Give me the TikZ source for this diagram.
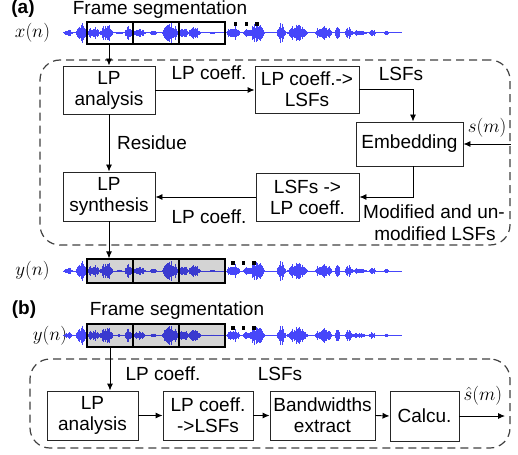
\documentclass[tikz,border=0pt]{standalone}
\usepackage{fix-cm}
\usepackage{fontspec}
\setmainfont{Liberation Sans}
\usetikzlibrary{arrows.meta}

\definecolor{wave}{RGB}{70,70,250}

\tikzset{
  txt/.style={font=\fontsize{19}{21}\selectfont, inner sep=0pt},
  blk/.style={draw=black!85, line width=0.9pt, fill=white, align=center,
              font=\fontsize{19}{21}\selectfont, inner sep=0pt},
  arr/.style={draw=black, line width=0.9pt, -{Latex[length=7pt,width=6pt]}},
  dashbox/.style={draw=black!75, line width=1.2pt, dash pattern=on 8pt off 5pt,
                  rounded corners=20pt, inner sep=0pt},
  frm/.style={draw=black, line width=1.2pt, inner sep=0pt},
  wv/.style={draw=wave, line width=1pt},
  dotmark/.style={fill=black},
}

% speech signal: bursts given as centre / half width / amplitude
\newcommand\speechsig{%
  \pgfmathsetseed{4242}%
  \draw[wv, line width=1pt] (63,0) -- (402,0);
  \foreach \c/\w/\a in {68/4/4, 81/5/11, 93/7/6, 106/6/10, 119/3/1.5, 128/3/8,
      139/6/4.5, 153/3/2.5, 170/8/11, 183/4/7, 194/6/6, 212/2/1.5, 233/6/8,
      246/3/4, 256/8/10, 281/4/10, 297/10/9, 323/8/9, 337/2/7, 348/3/6,
      358/8/3.5, 372/3/4, 386/2/2}{%
    \foreach \k in {-\w,...,\w}{%
      \pgfmathsetmacro\h{\a*(1-(\k/(\w+1))^2)*(0.45+0.55*rnd)}%
      \draw[wv] (\c+\k,-\h) -- (\c+\k,\h);
    }%
  }%
}

\begin{document}
\begin{tikzpicture}[x=1pt, y=-1pt]
\useasboundingbox (0,0) rectangle (518,454);

% ---------------- (a) embedding ----------------
\node[txt, font=\fontsize{19}{21}\selectfont\bfseries] (tagA) at (23,9) {(a)};
\node[txt, anchor=base] (segA) at (160,15) {Frame segmentation};
\node[txt] (xn) at (32.5,33) {$x(n)$};

\begin{scope}[shift={(0,33)}]
  \speechsig
\end{scope}
\node[frm, minimum width=138pt, minimum height=22pt] (fr1) at (156,33) {};
\draw[frm] (133,22) -- (133,44) (179,22) -- (179,44);
\fill[dotmark] (233.5,22.5) rectangle +(3.5,3.5);
\fill[dotmark] (244.5,22.5) rectangle +(3.5,3.5);
\fill[dotmark] (255.0,22.5) rectangle +(3.5,3.5);

\node[dashbox, minimum width=470pt, minimum height=185pt] (secA) at (275,152.5) {};

\node[blk, minimum width=92pt, minimum height=48pt] (LPa) at (109,90) {LP\\analysis};
\node[blk, minimum width=104pt, minimum height=47pt] (CtoL) at (307,89.5) {LP coeff.->\\LSFs};
\node[blk, minimum width=107pt, minimum height=44pt] (Emb) at (409.5,144) {Embedding};
\node[blk, minimum width=103pt, minimum height=48pt] (LtoC) at (307.5,197) {LSFs ->\\LP coeff.};
\node[blk, minimum width=92pt, minimum height=49pt] (LPs) at (109,196.5) {LP\\synthesis};

\node[txt, anchor=base] (lcA) at (209,80) {LP coeff.};
\node[txt, anchor=base] (lsA) at (401,81) {LSFs};
\node[txt, anchor=base] (res) at (152,150) {Residue};
\node[txt, anchor=base] (lcB) at (209,223) {LP coeff.};
\node[txt] (sm) at (487,128) {$s(m)$};
\node[txt, anchor=base] (mod1) at (434,218) {Modified and un-};
\node[txt, anchor=base] (mod2) at (435,240) {modified LSFs};

\draw[arr] (fr1.south -| LPa.north) -- (LPa.north);
\draw[arr] (LPa.east) -- (LPa.east -| CtoL.west);
\draw[arr] (CtoL.east) -| ([xshift=3.5pt]Emb.north);
\draw[arr] (secA.east |- Emb.east) -- (Emb.east);
\draw[arr] ([xshift=3.5pt]Emb.south) |- (LtoC.east);
\draw[arr] (LtoC.west) -- (LtoC.west -| LPs.east);
\draw[arr] (LPa.south) -- (LPs.north);

% ---------------- watermarked signal ----------------
\node[txt] (yn1) at (32.5,271) {$y(n)$};
\begin{scope}[shift={(0,271)}]
  \speechsig
\end{scope}
\node[frm, minimum width=138pt, minimum height=24pt] (fr2) at (156,271) {};
\fill[black, opacity=0.17] (fr2.south west) rectangle (fr2.north east);
\draw[frm] (fr2.south west) rectangle (fr2.north east);
\draw[frm] (133,259) -- (133,283) (179,259) -- (179,283);
\fill[dotmark] (231,261) rectangle +(3.5,3.5);
\fill[dotmark] (241.5,261) rectangle +(3.5,3.5);
\fill[dotmark] (252,261) rectangle +(3.5,3.5);

\draw[arr] (LPs.south) -- (LPs.south |- fr2.north);

% ---------------- (b) extraction ----------------
\node[txt, font=\fontsize{19}{21}\selectfont\bfseries] (tagB) at (24,310) {(b)};
\node[txt, anchor=base] (segB) at (177,315) {Frame segmentation};
\node[txt] (yn2) at (50,336) {$y(n)$};
\begin{scope}[shift={(0,335.5)}]
  \speechsig
\end{scope}
\node[frm, minimum width=138pt, minimum height=23pt] (fr3) at (156,335.5) {};
\fill[black, opacity=0.17] (fr3.south west) rectangle (fr3.north east);
\draw[frm] (fr3.south west) rectangle (fr3.north east);
\draw[frm] (133,324) -- (133,347) (179,324) -- (179,347);
\fill[dotmark] (231,326) rectangle +(3.5,3.5);
\fill[dotmark] (241.5,326) rectangle +(3.5,3.5);
\fill[dotmark] (252,326) rectangle +(3.5,3.5);

\node[dashbox, minimum width=480pt, minimum height=89pt] (secB) at (270,403.5) {};

\node[blk, minimum width=91pt, minimum height=49pt] (LPb) at (92.5,415.5) {LP\\analysis};
\node[blk, minimum width=90pt, minimum height=49pt] (CtoLb) at (208,415.5) {LP coeff.\\->LSFs};
\node[blk, minimum width=105pt, minimum height=49pt] (BW) at (322.5,415.5) {Bandwidths\\extract};
\node[blk, minimum width=69pt, minimum height=50pt] (Calc) at (424.5,416) {Calcu.};
\coordinate (out) at (505,416);

\node[txt, anchor=base] (lcC) at (163,380) {LP coeff.};
\node[txt, anchor=base] (lsC) at (280,380) {LSFs};
\node[txt, anchor=south west] (shat) at ([xshift=4pt,yshift=11pt]Calc.east) {$\hat{s}(m)$};

\draw[arr] ([xshift=-46pt]fr3.south) -- ([xshift=-46pt]fr3.south |- LPb.north);
\draw[arr] (LPb.east) -- (CtoLb.west);
\draw[arr] (CtoLb.east) -- (BW.west);
\draw[arr] (BW.east) -- (Calc.west);
\draw[arr] (Calc.east) -- (out);
\end{tikzpicture}
\end{document}
